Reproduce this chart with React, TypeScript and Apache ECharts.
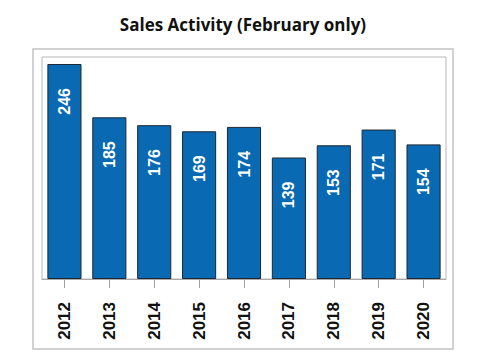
import React, { useEffect, useRef } from "react";
import * as echarts from "echarts";

const categories = ["2012", "2013", "2014", "2015", "2016", "2017", "2018", "2019", "2020"];
const values = [246, 185, 176, 169, 174, 139, 153, 171, 154];
const titleText = "Sales Activity (February only)";

export default function App() {
  const ref = useRef<HTMLDivElement>(null);
  useEffect(() => {
    const chart = echarts.init(ref.current!, null, { renderer: "svg" });
    chart.setOption({
      animation: false,
      backgroundColor: "#ffffff",
      title: {
        text: titleText,
        left: "center",
        top: 11,
        textStyle: { fontFamily: "Open Sans", fontWeight: "bold", fontSize: 17, color: "#111" },
      },
      graphic: [
        {
          type: "rect",
          shape: { x: 33, y: 49, width: 420, height: 300 },
          style: { fill: "none", stroke: "#c4c4c4", lineWidth: 1.5 },
          silent: true,
        },
      ],
      grid: {
        left: 42,
        right: 40,
        top: 57,
        bottom: 83,
        show: true,
        borderColor: "#b8b8b8",
        borderWidth: 1,
      },
      xAxis: {
        type: "category",
        data: categories,
        axisLine: { show: true, lineStyle: { color: "#a8a8a8", width: 1 } },
        axisTick: { show: true, alignWithLabel: true, length: 9, lineStyle: { color: "#a0a0a0" } },
        axisLabel: {
          rotate: 90,
          margin: 23,
          fontFamily: "Liberation Sans",
          fontWeight: "bold",
          fontSize: 17,
          color: "#111",
        },
      },
      yAxis: {
        type: "value",
        min: 0,
        max: 254,
        show: false,
        splitLine: { show: false },
      },
      series: [
        {
          type: "bar",
          data: values,
          barCategoryGap: "24%",
          itemStyle: { color: "#0969b2", borderColor: "#1c2833", borderWidth: 1 },
          label: {
            show: true,
            position: "insideTop",
            rotate: 90,
            align: "right",
            verticalAlign: "middle",
            distance: 24,
            color: "#ffffff",
            fontFamily: "Liberation Sans",
            fontWeight: "bold",
            fontSize: 16,
          },
        },
      ],
    });
    return () => chart.dispose();
  }, []);
  return (
    <div
      ref={ref}
      style={{ position: "fixed", left: 0, top: 0, width: 486, height: 362 }}
    />
  );
}
